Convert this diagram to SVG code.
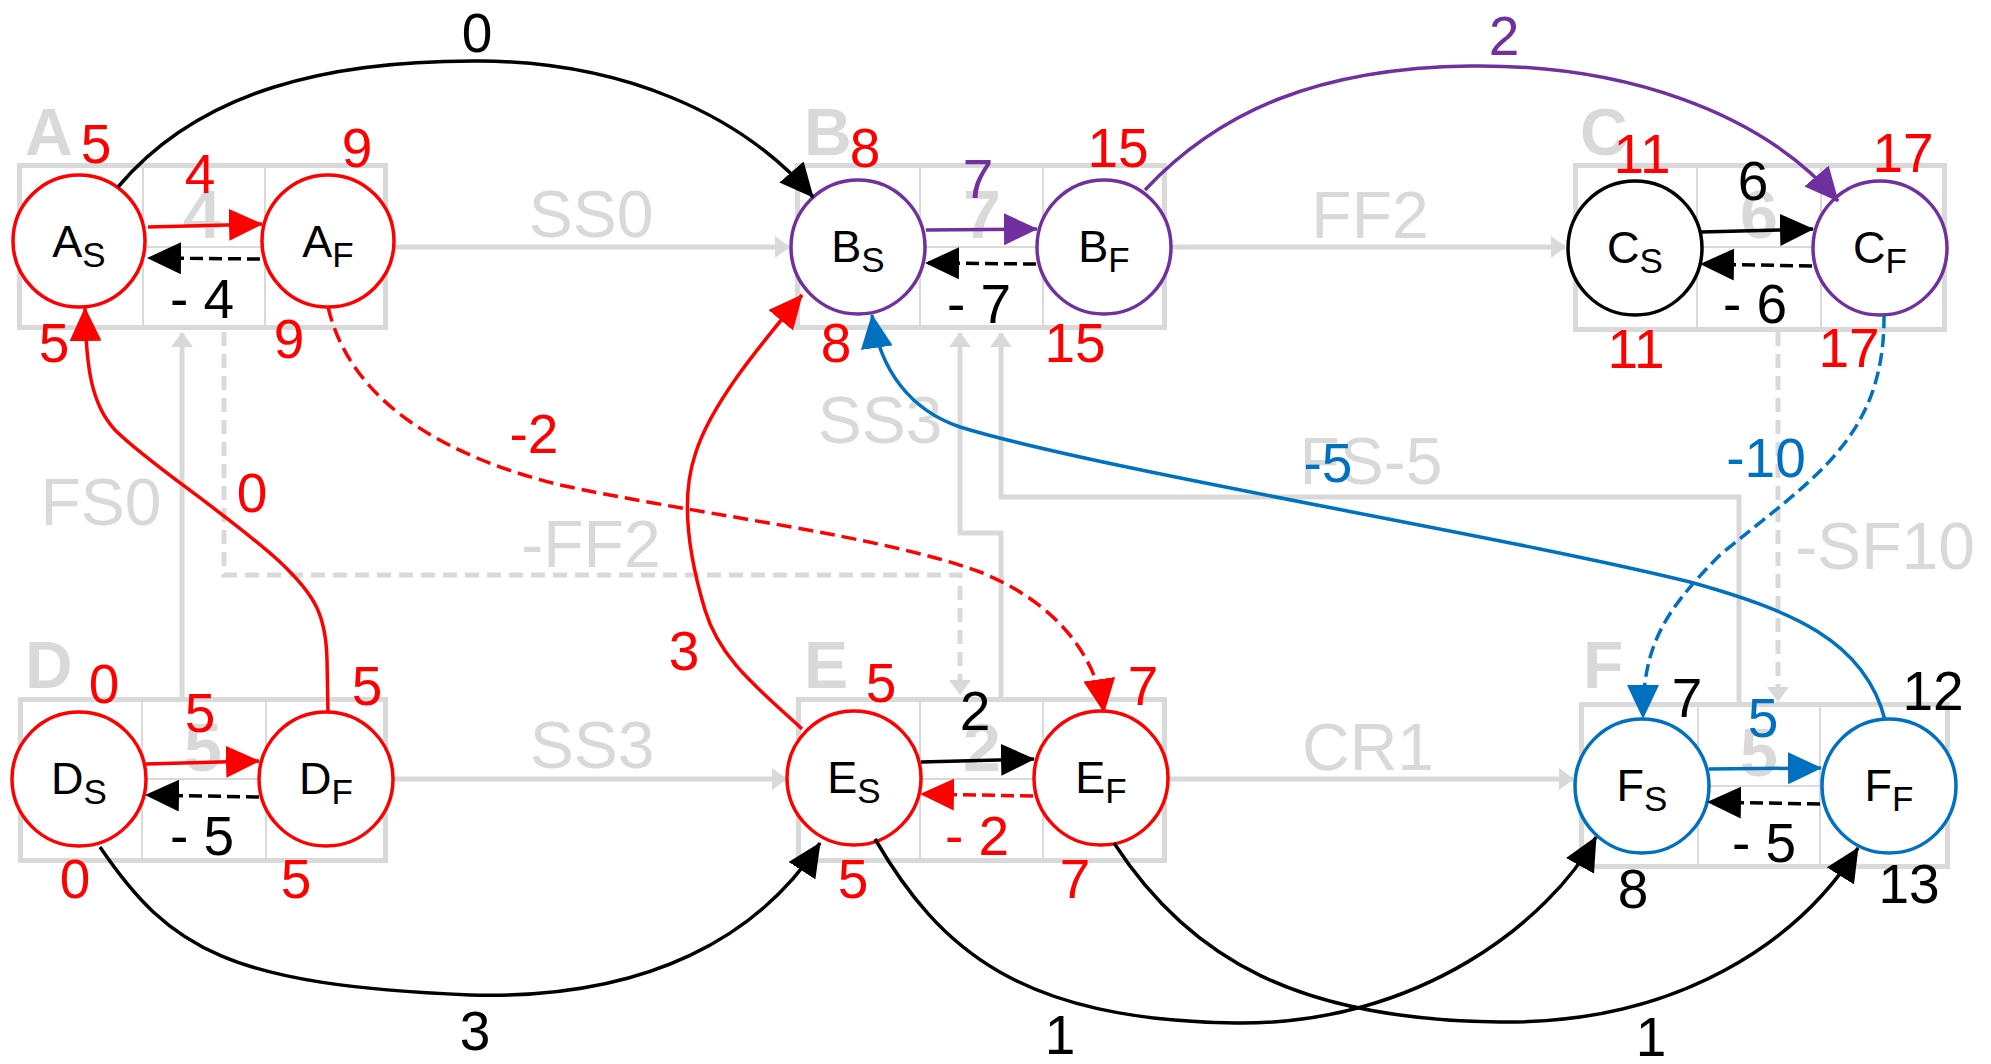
<svg xmlns="http://www.w3.org/2000/svg" width="1991" height="1064" viewBox="0 0 1991 1064">
<defs>
<style>
.box{fill:none;stroke:#d9d9d9;stroke-width:5}
.dv{stroke:#d9d9d9;stroke-width:2;fill:none}
.gl{stroke:#d9d9d9;stroke-width:5;fill:none}
.gd{stroke:#d9d9d9;stroke-width:5;fill:none;stroke-dasharray:14 8}
text{font-family:"Liberation Sans",Arial,Helvetica,sans-serif}
.gt{font-size:66px;fill:#d9d9d9;text-anchor:middle}
.gb{font-size:66px;font-weight:bold;fill:#d9d9d9}
.gm{font-size:68px;font-weight:bold;fill:#d9d9d9;text-anchor:middle}
.n{font-size:55px;text-anchor:middle}
.r{fill:#ff0000}
.k{fill:#000}
.p{fill:#7030a0}
.b{fill:#0070c0}
.lab{font-size:45px;text-anchor:middle;fill:#000}
.sub{font-size:35px}
.c{fill:#fff;stroke-width:3.5}
.cr{stroke:#ff0000}
.ck{stroke:#000}
.cp{stroke:#7030a0}
.cb{stroke:#0070c0}
.e{fill:none;stroke-width:3.5}
.dash{stroke-dasharray:13 6}
</style>
<marker id="mr" markerWidth="34" markerHeight="32" refX="33" refY="16" orient="auto" markerUnits="userSpaceOnUse"><path d="M0,0 L34,16 L0,32 z" fill="#ff0000"/></marker>
<marker id="mk" markerWidth="34" markerHeight="32" refX="33" refY="16" orient="auto" markerUnits="userSpaceOnUse"><path d="M0,0 L34,16 L0,32 z" fill="#000"/></marker>
<marker id="mp" markerWidth="34" markerHeight="32" refX="33" refY="16" orient="auto" markerUnits="userSpaceOnUse"><path d="M0,0 L34,16 L0,32 z" fill="#7030a0"/></marker>
<marker id="mb" markerWidth="34" markerHeight="32" refX="33" refY="16" orient="auto" markerUnits="userSpaceOnUse"><path d="M0,0 L34,16 L0,32 z" fill="#0070c0"/></marker>
<marker id="mg" markerWidth="15" markerHeight="22" refX="14" refY="11" orient="auto" markerUnits="userSpaceOnUse"><path d="M0,0 L15,11 L0,22 z" fill="#d9d9d9"/></marker>
</defs>
<rect width="1991" height="1064" fill="#fff"/>

<!-- activity boxes -->
<g id="boxA">
<rect class="box" x="19.5" y="165.5" width="366" height="162"/>
<path class="dv" d="M143,165 V328 M265,165 V328 M143,247 H265"/>
<text class="gb" x="25" y="155">A</text>
<text class="gm" x="202" y="238">4</text>
</g>
<g id="boxB">
<rect class="box" x="797.5" y="165.5" width="367" height="162"/>
<path class="dv" d="M920,165 V328 M1043,165 V328 M920,247 H1043"/>
<text class="gb" x="804" y="155">B</text>
<text class="gm" x="982" y="238">7</text>
</g>
<g id="boxC">
<rect class="box" x="1575.5" y="165.5" width="369" height="164"/>
<path class="dv" d="M1697,165 V330 M1821,165 V330 M1697,247 H1821"/>
<text class="gb" x="1580" y="155">C</text>
<text class="gm" x="1759" y="238">6</text>
</g>
<g id="boxD">
<rect class="box" x="20.5" y="699.5" width="365" height="161"/>
<path class="dv" d="M142,699 V861 M266,699 V861 M142,779 H266"/>
<text class="gb" x="25" y="688">D</text>
<text class="gm" x="203" y="771">5</text>
</g>
<g id="boxE">
<rect class="box" x="798.5" y="699.5" width="366" height="161"/>
<path class="dv" d="M920,699 V861 M1043,699 V861 M920,779 H1043"/>
<text class="gb" x="804" y="688">E</text>
<text class="gm" x="982" y="771">2</text>
</g>
<g id="boxF">
<rect class="box" x="1581.5" y="704.5" width="366" height="162"/>
<path class="dv" d="M1698,704 V867 M1820,704 V867 M1698,786 H1820"/>
<text class="gb" x="1583" y="688">F</text>
<text class="gm" x="1759" y="776">5</text>
</g>

<!-- gray relationship connectors -->
<g id="relations">
<path class="gl" d="M394,247 H789" marker-end="url(#mg)"/>
<path class="gl" d="M1172,247 H1565" marker-end="url(#mg)"/>
<path class="gl" d="M392,779 H786" marker-end="url(#mg)"/>
<path class="gl" d="M1168,779 H1573" marker-end="url(#mg)"/>
<path class="gl" d="M182,697 V333" marker-end="url(#mg)"/>
<path class="gd" d="M224,332 V575 H960 V694" marker-end="url(#mg)"/>
<path class="gl" d="M1001,697 V533 H960 V333" marker-end="url(#mg)"/>
<path class="gl" d="M1739,702 V497 H1001 V333" marker-end="url(#mg)"/>
<path class="gd" d="M1778,332 V701" marker-end="url(#mg)"/>
<text class="gt" x="591" y="237">SS0</text>
<text class="gt" x="1370" y="238">FF2</text>
<text class="gt" x="592" y="768">SS3</text>
<text class="gt" x="1368" y="770">CR1</text>
<text class="gt" x="101" y="525">FS0</text>
<text class="gt" x="591" y="567">-FF2</text>
<text class="gt" x="880" y="443">SS3</text>
<text class="gt" x="1371" y="484">FS-5</text>
<text class="gt" x="1885" y="569">-SF10</text>
</g>

<!-- event nodes -->
<g id="AS"><circle class="c cr" cx="79" cy="241" r="66"/><text class="lab" x="79" y="257">A<tspan class="sub" dy="10">S</tspan></text></g>
<g id="AF"><circle class="c cr" cx="328" cy="241" r="66"/><text class="lab" x="328" y="257">A<tspan class="sub" dy="10">F</tspan></text></g>
<g id="BS"><circle class="c cp" cx="858" cy="247" r="67"/><text class="lab" x="858" y="262">B<tspan class="sub" dy="10">S</tspan></text></g>
<g id="BF"><circle class="c cp" cx="1104" cy="247" r="67"/><text class="lab" x="1104" y="262">B<tspan class="sub" dy="10">F</tspan></text></g>
<g id="CS"><circle class="c ck" cx="1635" cy="248" r="67"/><text class="lab" x="1635" y="263">C<tspan class="sub" dy="10">S</tspan></text></g>
<g id="CF"><circle class="c cp" cx="1880" cy="248" r="67"/><text class="lab" x="1880" y="263">C<tspan class="sub" dy="10">F</tspan></text></g>
<g id="DS"><circle class="c cr" cx="79" cy="779" r="67"/><text class="lab" x="79" y="794">D<tspan class="sub" dy="10">S</tspan></text></g>
<g id="DF"><circle class="c cr" cx="326" cy="779" r="67"/><text class="lab" x="326" y="794">D<tspan class="sub" dy="10">F</tspan></text></g>
<g id="ES"><circle class="c cr" cx="854" cy="778" r="67"/><text class="lab" x="854" y="793">E<tspan class="sub" dy="10">S</tspan></text></g>
<g id="EF"><circle class="c cr" cx="1101" cy="778" r="67"/><text class="lab" x="1101" y="793">E<tspan class="sub" dy="10">F</tspan></text></g>
<g id="FS"><circle class="c cb" cx="1642" cy="786" r="67"/><text class="lab" x="1642" y="801">F<tspan class="sub" dy="10">S</tspan></text></g>
<g id="FF"><circle class="c cb" cx="1889" cy="786" r="67"/><text class="lab" x="1889" y="801">F<tspan class="sub" dy="10">F</tspan></text></g>

<!-- event times -->
<g id="times">
<text class="n r" x="96" y="163">5</text>
<text class="n r" x="357" y="167">9</text>
<text class="n r" x="54" y="362">5</text>
<text class="n r" x="289" y="358">9</text>
<text class="n r" x="865" y="167">8</text>
<text class="n r" x="1118" y="167">15</text>
<text class="n r" x="836" y="362">8</text>
<text class="n r" x="1075" y="362">15</text>
<text class="n r" x="1642" y="173">11</text>
<text class="n r" x="1903" y="172">17</text>
<text class="n r" x="1636" y="368">11</text>
<text class="n r" x="1849" y="367">17</text>
<text class="n r" x="104" y="703">0</text>
<text class="n r" x="367" y="705">5</text>
<text class="n r" x="75" y="898">0</text>
<text class="n r" x="296" y="898">5</text>
<text class="n r" x="881" y="702">5</text>
<text class="n r" x="1143" y="705">7</text>
<text class="n r" x="853" y="898">5</text>
<text class="n r" x="1075" y="898">7</text>
<text class="n k" x="1687" y="717">7</text>
<text class="n k" x="1933" y="710">12</text>
<text class="n k" x="1633" y="908">8</text>
<text class="n k" x="1909" y="903">13</text>
</g>

<!-- connectors -->
<g id="connectors">
<path class="e" stroke="#ff0000" d="M148,227 L262,224" marker-end="url(#mr)"/>
<path class="e dash" stroke="#000" d="M260,259 L148,258" marker-end="url(#mk)"/>
<path class="e" stroke="#7030a0" d="M926,230 L1037,229" marker-end="url(#mp)"/>
<path class="e dash" stroke="#000" d="M1036,264 L926,263" marker-end="url(#mk)"/>
<path class="e" stroke="#000" d="M1701,232 L1813,229" marker-end="url(#mk)"/>
<path class="e dash" stroke="#000" d="M1812,266 L1701,264" marker-end="url(#mk)"/>
<path class="e" stroke="#ff0000" d="M146,764 L259,761" marker-end="url(#mr)"/>
<path class="e dash" stroke="#000" d="M259,797 L146,795" marker-end="url(#mk)"/>
<path class="e" stroke="#000" d="M921,762 L1034,759" marker-end="url(#mk)"/>
<path class="e dash" stroke="#ff0000" d="M1033,796 L921,794" marker-end="url(#mr)"/>
<path class="e" stroke="#0070c0" d="M1709,769 L1821,768" marker-end="url(#mb)"/>
<path class="e dash" stroke="#000" d="M1820,804 L1708,802" marker-end="url(#mk)"/>

<path class="e" stroke="#000" d="M118,187 C200,90 330,60 480,61 C620,62 740,112 813,197" marker-end="url(#mk)"/>
<path class="e" stroke="#7030a0" d="M1145,190 C1220,110 1320,68 1470,66 C1620,64 1760,110 1838,201" marker-end="url(#mp)"/>
<path class="e" stroke="#ff0000" d="M328,713 L327,660 C326,615 315,595 280,562 C225,512 150,465 115,430 C92,405 86,370 85,308" marker-end="url(#mr)"/>
<path class="e dash" stroke="#ff0000" style="stroke-dasharray:15 7" d="M328,307 C350,400 440,455 560,485 C700,515 880,535 980,572 C1050,600 1095,650 1104,712" marker-end="url(#mr)"/>
<path class="e" stroke="#ff0000" d="M802,729 C760,690 720,660 705,610 C690,560 680,500 695,455 C710,405 760,345 802,295" marker-end="url(#mr)"/>
<path class="e" stroke="#0070c0" d="M1885,720 C1865,640 1790,610 1690,582 C1500,535 1100,470 960,427 C910,410 880,370 872,315" marker-end="url(#mb)"/>
<path class="e dash" stroke="#0070c0" d="M1884,315 C1885,440 1810,480 1720,555 C1660,615 1643,650 1643,718" marker-end="url(#mb)"/>
<path class="e" stroke="#000" d="M100,847 C170,950 230,985 470,995 C650,1000 760,935 820,843" marker-end="url(#mk)"/>
<path class="e" stroke="#000" d="M875,839 C940,950 1020,1020 1236,1023 C1420,1025 1550,920 1596,837" marker-end="url(#mk)"/>
<path class="e" stroke="#000" d="M1114,843 C1190,960 1300,1020 1500,1022 C1680,1024 1800,940 1858,848" marker-end="url(#mk)"/>

<text class="n r" x="200" y="193">4</text>
<text class="n k" x="202" y="318">- 4</text>
<text class="n p" x="978" y="198">7</text>
<text class="n k" x="979" y="323">- 7</text>
<text class="n k" x="1753" y="200">6</text>
<text class="n k" x="1755" y="323">- 6</text>
<text class="n r" x="200" y="732">5</text>
<text class="n k" x="202" y="855">- 5</text>
<text class="n k" x="975" y="730">2</text>
<text class="n r" x="977" y="855">- 2</text>
<text class="n b" x="1763" y="737">5</text>
<text class="n k" x="1764" y="862">- 5</text>

<text class="n k" x="477" y="52">0</text>
<text class="n p" x="1504" y="55">2</text>
<text class="n r" x="252" y="512">0</text>
<text class="n r" x="534" y="453">-2</text>
<text class="n r" x="684" y="670">3</text>
<text class="n b" x="1328" y="482">-5</text>
<text class="n b" x="1766" y="477">-10</text>
<text class="n k" x="475" y="1050">3</text>
<text class="n k" x="1060" y="1054">1</text>
<text class="n k" x="1651" y="1056">1</text>
</g>
</svg>
